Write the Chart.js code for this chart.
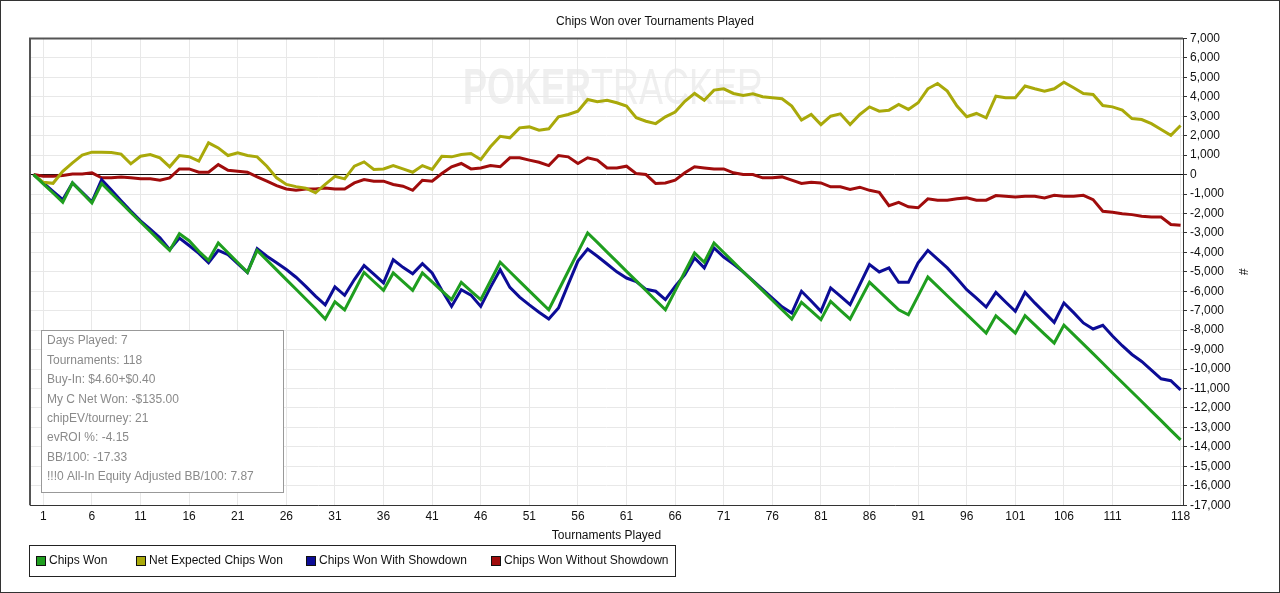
<!DOCTYPE html>
<html>
<head>
<meta charset="utf-8">
<script src="https://cdn.jsdelivr.net/npm/chart.js@4.4.1/dist/chart.umd.min.js"></script>
<style>
  html, body { margin: 0; padding: 0; background: #fff; overflow: hidden; }
  canvas { display: block; }
</style>
</head>
<body>
<canvas id="myChart" width="1280" height="593"></canvas>
<script>
// values, one per tournament (index 0 = start)
const chipsWon = [
  0, -475, -950, -1425, -430, -945, -1460, -463, -960, -1450,
  -1950, -2440, -2930, -3420, -3900, -3040, -3400, -3950, -4410, -3520,
  -4020, -4520, -5030, -3900, -4400, -4900, -5400, -5900, -6400, -6900,
  -7430, -6540, -6960, -6000, -5030, -5500, -5950, -5060, -5500, -5950,
  -5060, -5520, -5980, -6430, -5540, -5990, -6430, -5470, -4510, -5000,
  -5490, -5980, -6470, -6950, -5960, -4970, -3990, -3000, -3490, -3990,
  -4480, -4980, -5470, -5960, -6460, -6950, -5980, -5000, -4030, -4510,
  -3520, -4010, -4500, -5000, -5480, -5970, -6460, -6950, -7430, -6570,
  -7010, -7460, -6520, -6980, -7430, -6480, -5540, -6010, -6480, -6950,
  -7210, -6240, -5270, -5750, -6230, -6710, -7190, -7670, -8150, -7260,
  -7700, -8150, -7260, -7730, -8200, -8660, -7740, -8230, -8720, -9210,
  -9700, -10200, -10690, -11180, -11670, -12160, -12650, -13150, -13640
];
const netExpected = [
  0, -400, -450, 170, 600, 1000, 1150, 1150, 1130, 1050,
  550, 940, 1030, 860, 400, 980, 920, 690, 1630, 1370,
  980, 1120, 980, 910, 430, -170, -510, -620, -700, -940,
  -510, -90, -220, 430, 650, 260, 290, 460, 290, 120,
  460, 260, 940, 910, 1030, 1080, 770, 1430, 1970, 1890,
  2400, 2450, 2280, 2350, 2970, 3090, 3260, 3860, 3740, 3820,
  3690, 3520, 2920, 2740, 2620, 2970, 3210, 3770, 4170, 3820,
  4340, 4410, 4170, 4070, 4150, 4000, 3950, 3900, 3520, 2800,
  3090, 2570, 3000, 3120, 2570, 3090, 3480, 3260, 3310, 3600,
  3350, 3690, 4410, 4680, 4290, 3520, 2970, 3140, 2920, 4030,
  3950, 3950, 4550, 4410, 4290, 4410, 4750, 4460, 4170, 4120,
  3550, 3480, 3310, 2880, 2830, 2620, 2320, 2020, 2520
];
const wonShowdown = [
  0, -430, -860, -1290, -430, -920, -1400, -260, -800, -1350,
  -1880, -2380, -2800, -3250, -3860, -3260, -3650, -4050, -4540, -3900,
  -4120, -4580, -5030, -3810, -4200, -4530, -4880, -5280, -5750, -6250,
  -6700, -5780, -6210, -5400, -4680, -5120, -5570, -4380, -4770, -5100,
  -4580, -5060, -5950, -6780, -5920, -6200, -6780, -5800, -4890, -5800,
  -6300, -6700, -7080, -7430, -6860, -5650, -4450, -3830, -4200, -4600,
  -5000, -5320, -5500, -5900, -6000, -6430, -5750, -5150, -4290, -4800,
  -3770, -4240, -4600, -5000, -5450, -5900, -6350, -6800, -7120, -6000,
  -6500, -7030, -5830, -6250, -6690, -5660, -4630, -5010, -4800, -5540,
  -5540, -4540, -3900, -4350, -4800, -5350, -5920, -6350, -6810, -6060,
  -6550, -7030, -6060, -6600, -7100, -7600, -6600, -7100, -7630, -7940,
  -7750, -8300, -8800, -9250, -9610, -10050, -10500, -10600, -11070
];
const wonNoShowdown = [
  0, -90, -90, -50, 30, 30, 90, -170, -170, -120,
  -170, -220, -220, -290, -170, 290, 290, 120, 120, 510,
  220, 170, 120, -120, -340, -570, -740, -810, -740, -740,
  -690, -740, -740, -430, -260, -340, -340, -510, -600, -810,
  -290, -340, 50, 400, 570, 290, 340, 460, 400, 860,
  860, 740, 630, 460, 980, 910, 570, 860, 740, 340,
  340, 430, 50, 0, -460, -430, -290, 90, 400, 340,
  290, 290, 90, 0, 0, -170, -170, -120, -290, -460,
  -400, -430, -630, -630, -770, -650, -810, -910, -1600, -1430,
  -1660, -1710, -1250, -1320, -1320, -1250, -1200, -1320, -1320, -1080,
  -1120, -1150, -1120, -1120, -1200, -1070, -1120, -1120, -1070, -1290,
  -1890, -1940, -2010, -2060, -2140, -2180, -2180, -2570, -2610
];

const xTicks = [1, 6, 11, 16, 21, 26, 31, 36, 41, 46, 51, 56, 61, 66, 71, 76, 81, 86, 91, 96, 101, 106, 111, 118];
const seriesNames = ['Chips Won', 'Net Expected Chips Won', 'Chips Won With Showdown', 'Chips Won Without Showdown'];
const seriesColors = ['#1f9e1f', '#a9a90a', '#0c0c96', '#a00c0c'];
const statsLines = [
  'Days Played: 7',
  'Tournaments: 118',
  'Buy-In: $4.60+$0.40',
  'My C Net Won: -$135.00',
  'chipEV/tourney: 21',
  'evROI %: -4.15',
  'BB/100: -17.33',
  '!!!0 All-In Equity Adjusted BB/100: 7.87'
];

const FONT = "'Liberation Sans', Arial, sans-serif";
Chart.defaults.font.family = FONT;
Chart.defaults.font.size = 12;
Chart.defaults.color = '#111';

function toPoints(arr) {
  return arr.map((v, i) => ({ x: i, y: v }));
}

const allSeries = [chipsWon, netExpected, wonShowdown, wonNoShowdown];

// watermark, plot frame, stats box, legend box
const decor = {
  id: 'decor',
  beforeDraw(chart) {
    const ctx = chart.ctx;
    ctx.save();
    ctx.fillStyle = '#efefef';
    ctx.textBaseline = 'alphabetic';
    ctx.translate(463, 104);
    ctx.scale(0.72, 1);
    ctx.font = "bold 50px " + FONT;
    ctx.fillText('POKER', 0, 0);
    const w = ctx.measureText('POKER').width;
    ctx.font = "50px " + FONT;
    ctx.fillText('TRACKER', w, 0);
    ctx.restore();
  },
  afterDraw(chart) {
    const ctx = chart.ctx;
    const a = chart.chartArea;
    ctx.save();
    // frame top + left
    ctx.strokeStyle = '#555';
    ctx.lineWidth = 2;
    ctx.beginPath();
    ctx.moveTo(a.left, a.bottom);
    ctx.lineTo(a.left, a.top);
    ctx.lineTo(a.right, a.top);
    ctx.stroke();

    // stats box
    ctx.fillStyle = '#fff';
    ctx.fillRect(41, 330, 242, 162);
    ctx.strokeStyle = '#999';
    ctx.lineWidth = 1;
    ctx.strokeRect(41.5, 330.5, 242, 162);
    ctx.fillStyle = '#8a8a8a';
    ctx.font = "12px " + FONT;
    ctx.textBaseline = 'middle';
    statsLines.forEach((t, i) => ctx.fillText(t, 47, 341 + i * 19.4));

    // legend
    ctx.strokeStyle = '#222';
    ctx.lineWidth = 1;
    ctx.strokeRect(29.5, 545.5, 646, 31);
    const sq = [36, 136, 306, 491];
    seriesNames.forEach((n, i) => {
      ctx.fillStyle = seriesColors[i];
      ctx.fillRect(sq[i], 556, 9, 9);
      ctx.strokeStyle = '#111';
      ctx.strokeRect(sq[i] + 0.5, 556.5, 9, 9);
      ctx.fillStyle = '#111';
      ctx.fillText(n, sq[i] + 13, 561);
    });

    // outer border
    ctx.strokeStyle = '#333';
    ctx.strokeRect(0.5, 0.5, 1279, 592);
    ctx.restore();
  }
};

const myChart = new Chart(document.getElementById('myChart'), {
  type: 'line',
  data: {
    datasets: allSeries.map((s, i) => ({
      label: seriesNames[i],
      data: toPoints(s),
      borderColor: seriesColors[i],
      backgroundColor: seriesColors[i],
      borderWidth: 3,
      pointRadius: 0,
      tension: 0,
      fill: false
    }))
  },
  options: {
    responsive: false,
    animation: false,
    devicePixelRatio: 1,
    layout: { padding: { left: 30, right: 0, top: 0, bottom: 46 } },
    plugins: {
      legend: { display: false },
      tooltip: { enabled: false },
      title: {
        display: true,
        text: 'Chips Won over Tournaments Played',
        color: '#111',
        font: { size: 12, weight: 'normal' },
        padding: { top: 14, bottom: 10 }
      }
    },
    scales: {
      x: {
        type: 'linear',
        min: -0.37,
        max: 118.25,
        afterBuildTicks: (scale) => { scale.ticks = xTicks.map(v => ({ value: v })); },
        ticks: { autoSkip: false, maxRotation: 0, padding: 4, color: '#111', callback: v => v },
        grid: { color: '#e8e8e8', drawTicks: false },
        border: { display: true, color: '#333', width: 1 },
        title: { display: true, text: 'Tournaments Played', color: '#111', padding: { top: 1, bottom: 4 } }
      },
      y: {
        position: 'right',
        min: -17000,
        max: 7000,
        afterFit: (scale) => { scale.width = 97; },
        ticks: { stepSize: 1000, autoSkip: false, padding: 3, color: '#111' },
        grid: {
          color: (c) => (c.tick && c.tick.value === 0 ? '#111' : '#e8e8e8'),
          tickLength: 4,
          tickColor: '#333'
        },
        border: { display: true, color: '#333', width: 1 },
        title: { display: true, text: '#', color: '#111', padding: { top: 30, bottom: 0 } }
      }
    }
  },
  plugins: [decor]
});
</script>
</body>
</html>
